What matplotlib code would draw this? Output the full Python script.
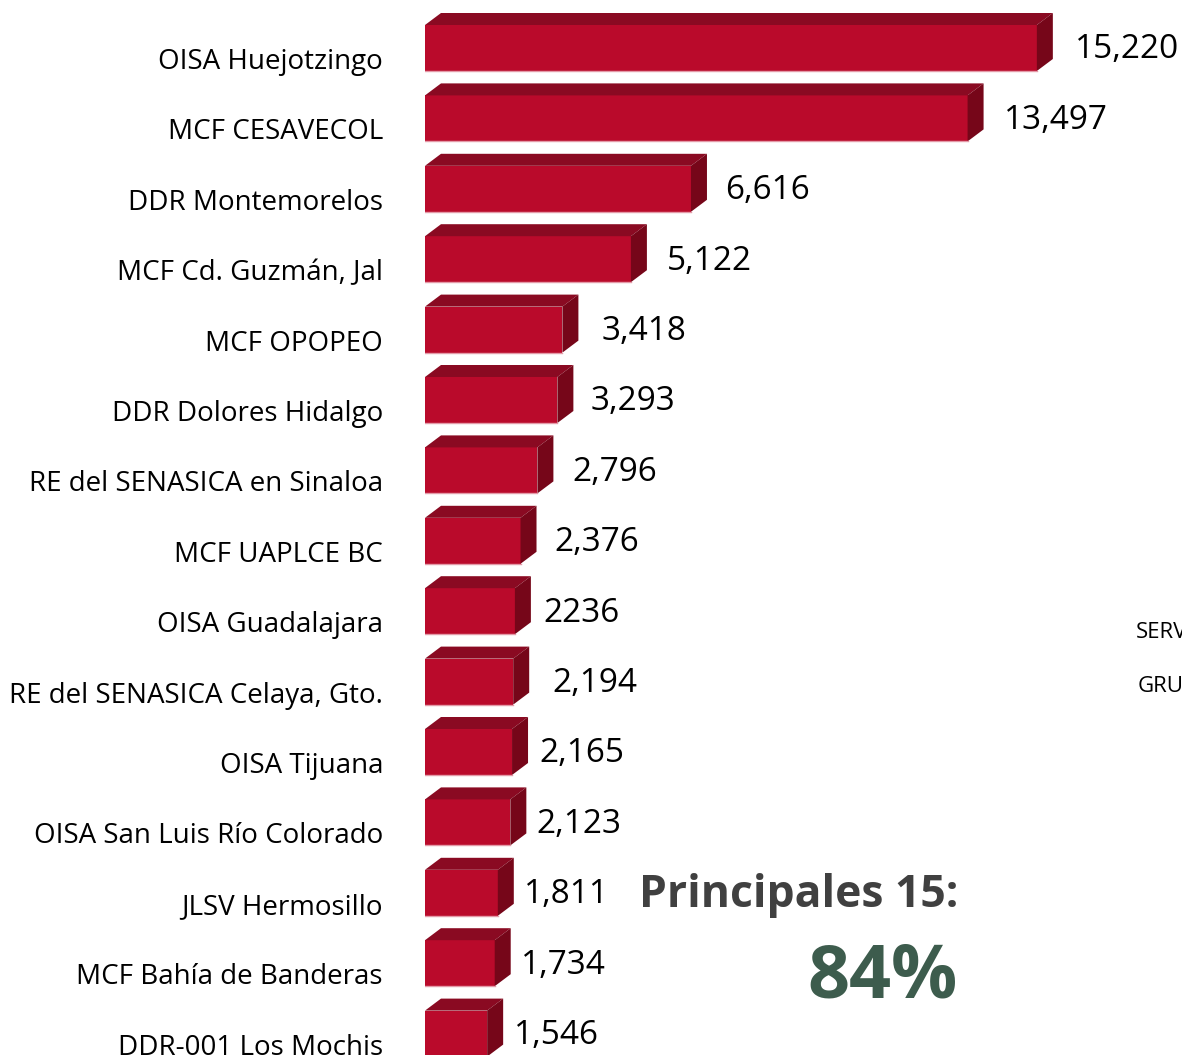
import matplotlib.pyplot as plt
from matplotlib.patches import Polygon

# Datos
oficinas = ['OISA Huejotzingo', 'MCF CESAVECOL', 'DDR Montemorelos',
            'MCF Cd. Guzmán, Jal', 'MCF OPOPEO', 'DDR Dolores Hidalgo',
            'RE del SENASICA en Sinaloa', 'MCF UAPLCE BC', 'OISA Guadalajara',
            'RE del SENASICA Celaya, Gto.', 'OISA Tijuana',
            'OISA San Luis Río Colorado', 'JLSV Hermosillo',
            'MCF Bahía de Banderas', 'DDR-001 Los Mochis']
valores = [15220, 13497, 6616, 5122, 3418, 3293, 2796, 2376, 2236,
           2194, 2165, 2123, 1811, 1734, 1546]
etiquetas = ['15,220', '13,497', '6,616', '5,122', '3,418', '3,293', '2,796',
             '2,376', '2236', '2,194', '2,165', '2,123', '1,811', '1,734',
             '1,546']
titulo = 'Principales 15:'
porcentaje = '84%'
texto_cortado = ['SERV', 'GRU']

# estilo
gap_px = [22, 20, 18, 20, 23, 17, 19, 18, 12, 23, 11, 10, 10, 10, 11]
c_front = '#BA0A2B'
c_top = '#8A0A22'
c_side = '#760619'
plt.rcParams['font.family'] = ['Open Sans', 'DejaVu Sans']

W, H = 1182, 1055
fig = plt.figure(figsize=(W / 100, H / 100), dpi=100)
ax = fig.add_axes([425 / W, 0, 1 - 425 / W, 1])
ax.axis('off')

px_x = 0.0402                # pixels per unit
pitch = 70.4                 # pixels per bar
ax.set_xlim(0, (W - 425) / px_x)
ax.set_ylim((H - 48) / pitch, -48 / pitch)

h = 46 / pitch
dx = 16 / px_x
dy = 12 / pitch
ys = list(range(len(valores)))

ax.barh(ys, valores, height=h, color=c_front, edgecolor='none', zorder=2)
for y, v in zip(ys, valores):
    top = [(0, y - h / 2), (v, y - h / 2), (v + dx, y - h / 2 - dy), (dx, y - h / 2 - dy)]
    side = [(v, y - h / 2), (v + dx, y - h / 2 - dy), (v + dx, y + h / 2 - dy), (v, y + h / 2)]
    ax.add_patch(Polygon(top, closed=True, color=c_top, lw=0, zorder=3))
    ax.add_patch(Polygon(side, closed=True, color=c_side, lw=0, zorder=3))
    ax.plot([0, v], [y + h / 2, y + h / 2], color='#E39AA8', lw=1, zorder=4)

for y, v, lab, g in zip(ys, valores, etiquetas, gap_px):
    ax.annotate(lab, xy=(v + dx, y), xytext=(g, -2), textcoords='offset pixels',
                ha='left', va='center', fontsize=24, color='black')

for y, name in zip(ys, oficinas):
    ax.annotate(name, xy=(0, y), xytext=(-42, -14), textcoords='offset pixels',
                ha='right', va='center', fontsize=20, color='black',
                annotation_clip=False)

fig.text(958 / W, 1 - 895 / H, titulo, ha='right', va='center',
         fontsize=32, fontweight='bold', color='#404040')
fig.text(958 / W, 1 - 979 / H, porcentaje, ha='right', va='center',
         fontsize=53, fontweight='bold', color='#3D5C4D')
fig.text(1136 / W, 1 - 632 / H, texto_cortado[0], ha='left', va='center',
         fontsize=16, color='black')
fig.text(1138 / W, 1 - 686 / H, texto_cortado[1], ha='left', va='center',
         fontsize=16, color='black')

fig.savefig('out.png', dpi=100)
